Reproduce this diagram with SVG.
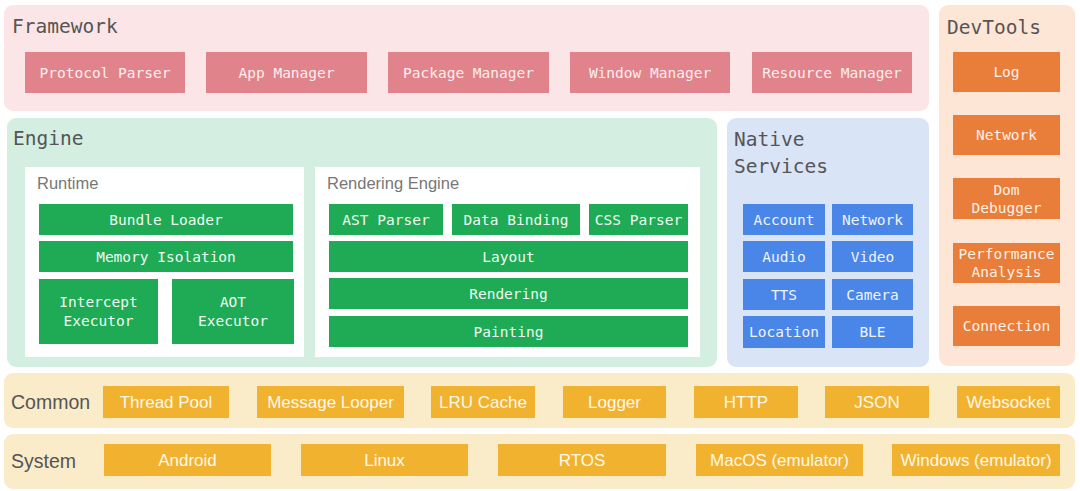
<svg xmlns="http://www.w3.org/2000/svg" width="1080" height="491" viewBox="0 0 1080 491">
<style>
.mono{font-family:"DejaVu Sans Mono","Liberation Mono",monospace}
.sans{font-family:"Liberation Sans",Arial,sans-serif}
.title{font-size:19.5px;fill:#555}
.sub{font-size:16.5px;fill:#777}
.bt{font-size:14.5px;text-anchor:middle;dominant-baseline:central}
.st{font-size:17px;text-anchor:middle;dominant-baseline:central;fill:#fff8e8}
.fw{fill:#e0838a}
.dv{fill:#e87e3a}
.gr{fill:#1faa55}
.bl{fill:#4a86e8}
.yl{fill:#f1b22f}
.wt{fill:#fff}
</style>
<rect width="1080" height="491" fill="#ffffff"/>

<g id="framework">
<rect x="4" y="5" width="925" height="106" rx="9" fill="#fbe5e6"/>
<text x="12" y="33" class="mono title">Framework</text>
<g id="protocol-parser"><rect class="fw" x="25" y="52" width="160" height="41"/><text class="mono bt" x="105" y="72.5" fill="#fdeef0">Protocol Parser</text></g>
<g id="app-manager"><rect class="fw" x="206" y="52" width="161" height="41"/><text class="mono bt" x="286.5" y="72.5" fill="#fdeef0">App Manager</text></g>
<g id="package-manager"><rect class="fw" x="388" y="52" width="161" height="41"/><text class="mono bt" x="468.5" y="72.5" fill="#fdeef0">Package Manager</text></g>
<g id="window-manager"><rect class="fw" x="570" y="52" width="160" height="41"/><text class="mono bt" x="650" y="72.5" fill="#fdeef0">Window Manager</text></g>
<g id="resource-manager"><rect class="fw" x="752" y="52" width="160" height="41"/><text class="mono bt" x="832" y="72.5" fill="#fdeef0">Resource Manager</text></g>
</g>

<g id="devtools">
<rect x="939" y="5" width="136" height="361" rx="9" fill="#fde6d6"/>
<text x="947" y="34" class="mono title">DevTools</text>
<g id="log"><rect class="dv" x="953" y="52" width="107" height="40"/><text class="mono bt" x="1006.5" y="72" fill="#fff0e6">Log</text></g>
<g id="dt-network"><rect class="dv" x="953" y="115" width="107" height="40"/><text class="mono bt" x="1006.5" y="135" fill="#fff0e6">Network</text></g>
<g id="dom-debugger"><rect class="dv" x="953" y="178" width="107" height="41"/><text class="mono bt" x="1006.5" y="189.5" fill="#fff0e6">Dom</text><text class="mono bt" x="1006.5" y="208" fill="#fff0e6">Debugger</text></g>
<g id="performance-analysis"><rect class="dv" x="953" y="243" width="107" height="40"/><text class="mono bt" x="1006.5" y="253.5" fill="#fff0e6">Performance</text><text class="mono bt" x="1006.5" y="272" fill="#fff0e6">Analysis</text></g>
<g id="connection"><rect class="dv" x="953" y="306" width="107" height="40"/><text class="mono bt" x="1006.5" y="326" fill="#fff0e6">Connection</text></g>
</g>

<g id="engine">
<rect x="7" y="118" width="710" height="249" rx="9" fill="#d4efe2"/>
<text x="13" y="145" class="mono title">Engine</text>
<g id="runtime">
<rect class="wt" x="25" y="167" width="279" height="190"/>
<text x="37" y="189" class="sans sub">Runtime</text>
<g id="bundle-loader"><rect class="gr" x="39" y="204" width="254" height="31"/><text class="mono bt" x="166" y="219.5" fill="#effaf2">Bundle Loader</text></g>
<g id="memory-isolation"><rect class="gr" x="39" y="241" width="254" height="31"/><text class="mono bt" x="166" y="256.5" fill="#effaf2">Memory Isolation</text></g>
<g id="intercept-executor"><rect class="gr" x="39" y="279" width="119" height="65"/><text class="mono bt" x="98.5" y="302" fill="#effaf2">Intercept</text><text class="mono bt" x="98.5" y="321" fill="#effaf2">Executor</text></g>
<g id="aot-executor"><rect class="gr" x="172" y="279" width="122" height="65"/><text class="mono bt" x="233" y="302" fill="#effaf2">AOT</text><text class="mono bt" x="233" y="321" fill="#effaf2">Executor</text></g>
</g>
<g id="rendering-engine">
<rect class="wt" x="315" y="167" width="385" height="190"/>
<text x="327" y="189" class="sans sub">Rendering Engine</text>
<g id="ast-parser"><rect class="gr" x="329" y="204" width="114" height="31"/><text class="mono bt" x="386" y="219.5" fill="#effaf2">AST Parser</text></g>
<g id="data-binding"><rect class="gr" x="452" y="204" width="128" height="31"/><text class="mono bt" x="516" y="219.5" fill="#effaf2">Data Binding</text></g>
<g id="css-parser"><rect class="gr" x="589" y="204" width="99" height="31"/><text class="mono bt" x="638.5" y="219.5" fill="#effaf2">CSS Parser</text></g>
<g id="layout"><rect class="gr" x="329" y="241" width="359" height="31"/><text class="mono bt" x="508.5" y="256.5" fill="#effaf2">Layout</text></g>
<g id="rendering"><rect class="gr" x="329" y="278" width="359" height="31"/><text class="mono bt" x="508.5" y="293.5" fill="#effaf2">Rendering</text></g>
<g id="painting"><rect class="gr" x="329" y="316" width="359" height="31"/><text class="mono bt" x="508.5" y="331.5" fill="#effaf2">Painting</text></g>
</g>
</g>

<g id="native-services">
<rect x="727" y="118" width="202" height="249" rx="9" fill="#dae4f7"/>
<text x="734" y="146" class="mono title">Native</text>
<text x="734" y="173" class="mono title">Services</text>
<g id="account"><rect class="bl" x="743" y="204" width="82" height="31"/><text class="mono bt" x="784" y="219.5" fill="#eef4fe">Account</text></g>
<g id="ns-network"><rect class="bl" x="832" y="204" width="81" height="31"/><text class="mono bt" x="872.5" y="219.5" fill="#eef4fe">Network</text></g>
<g id="audio"><rect class="bl" x="743" y="241" width="82" height="31"/><text class="mono bt" x="784" y="256.5" fill="#eef4fe">Audio</text></g>
<g id="video"><rect class="bl" x="832" y="241" width="81" height="31"/><text class="mono bt" x="872.5" y="256.5" fill="#eef4fe">Video</text></g>
<g id="tts"><rect class="bl" x="743" y="279" width="82" height="31"/><text class="mono bt" x="784" y="294.5" fill="#eef4fe">TTS</text></g>
<g id="camera"><rect class="bl" x="832" y="279" width="81" height="31"/><text class="mono bt" x="872.5" y="294.5" fill="#eef4fe">Camera</text></g>
<g id="location"><rect class="bl" x="743" y="316" width="82" height="32"/><text class="mono bt" x="784" y="332" fill="#eef4fe">Location</text></g>
<g id="ble"><rect class="bl" x="832" y="316" width="81" height="32"/><text class="mono bt" x="872.5" y="332" fill="#eef4fe">BLE</text></g>
</g>

<g id="common">
<rect x="4" y="373" width="1071" height="55" rx="9" fill="#faebc9"/>
<text x="11" y="409" class="sans" font-size="19.5" fill="#555">Common</text>
<g id="thread-pool"><rect class="yl" x="103" y="386" width="126" height="32"/><text class="sans st" x="166" y="402">Thread Pool</text></g>
<g id="message-looper"><rect class="yl" x="257" y="386" width="147" height="32"/><text class="sans st" x="330.5" y="402">Message Looper</text></g>
<g id="lru-cache"><rect class="yl" x="431" y="386" width="104" height="32"/><text class="sans st" x="483" y="402">LRU Cache</text></g>
<g id="logger"><rect class="yl" x="563" y="386" width="103" height="32"/><text class="sans st" x="614.5" y="402">Logger</text></g>
<g id="http"><rect class="yl" x="694" y="386" width="104" height="32"/><text class="sans st" x="746" y="402">HTTP</text></g>
<g id="json"><rect class="yl" x="825" y="386" width="104" height="32"/><text class="sans st" x="877" y="402">JSON</text></g>
<g id="websocket"><rect class="yl" x="957" y="386" width="103" height="32"/><text class="sans st" x="1008.5" y="402">Websocket</text></g>
</g>

<g id="system">
<rect x="4" y="434" width="1071" height="55" rx="9" fill="#faebc9"/>
<text x="11" y="468" class="sans" font-size="19.5" fill="#555">System</text>
<g id="android"><rect class="yl" x="104" y="444" width="167" height="32"/><text class="sans st" x="187.5" y="460">Android</text></g>
<g id="linux"><rect class="yl" x="301" y="444" width="167" height="32"/><text class="sans st" x="384.5" y="460">Linux</text></g>
<g id="rtos"><rect class="yl" x="498" y="444" width="168" height="32"/><text class="sans st" x="582" y="460">RTOS</text></g>
<g id="macos"><rect class="yl" x="696" y="444" width="167" height="32"/><text class="sans st" x="779.5" y="460">MacOS (emulator)</text></g>
<g id="windows"><rect class="yl" x="892" y="444" width="168" height="32"/><text class="sans st" x="976" y="460">Windows (emulator)</text></g>
</g>

<g id="connectors"></g>
</svg>
